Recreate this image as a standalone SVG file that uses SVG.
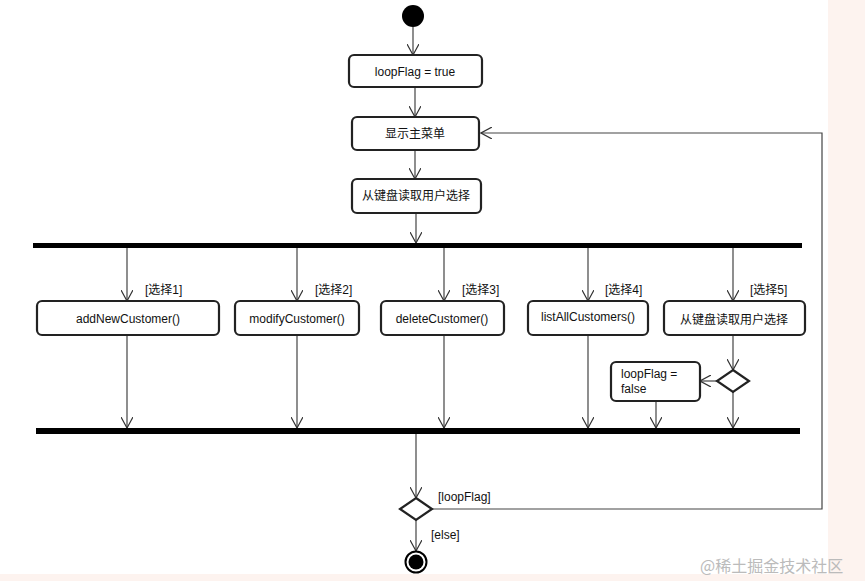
<svg xmlns="http://www.w3.org/2000/svg" width="865" height="581" viewBox="0 0 865 581">
<defs>
<marker id="a" viewBox="0 0 12 12" refX="11" refY="6" markerWidth="12" markerHeight="12" markerUnits="userSpaceOnUse" orient="auto"><path d="M0,0 L11,6 L0,12" fill="none" stroke="#333" stroke-width="1.2"/></marker>
<style>
.b{fill:#fff;stroke:#222;stroke-width:2.2}
.t{font-family:"Liberation Sans","Noto Sans CJK SC",sans-serif;font-size:12px;fill:#111}
.c{text-anchor:middle}
.l{fill:none;stroke:#444;stroke-width:1.2}
.bar{fill:#000}
</style>
</defs>
<rect width="865" height="581" fill="#fff"/>
<rect x="828" y="0" width="37" height="581" fill="#fdf3ef"/>
<rect x="0" y="574" width="865" height="7" fill="#fdf3ef"/>
<g id="connectors" class="l">
<path d="M413,27 V55" marker-end="url(#a)"/>
<path d="M415,87 V117" marker-end="url(#a)"/>
<path d="M415,150 V179" marker-end="url(#a)"/>
<path d="M416,213 V243" marker-end="url(#a)"/>
<path d="M127,248 V301" marker-end="url(#a)"/>
<path d="M297,248 V301" marker-end="url(#a)"/>
<path d="M444,248 V301" marker-end="url(#a)"/>
<path d="M588,248 V301" marker-end="url(#a)"/>
<path d="M733,248 V301" marker-end="url(#a)"/>
<path d="M127,335 V428" marker-end="url(#a)"/>
<path d="M297,335 V428" marker-end="url(#a)"/>
<path d="M444,335 V428" marker-end="url(#a)"/>
<path d="M588,335 V428" marker-end="url(#a)"/>
<path d="M733,335 V370" marker-end="url(#a)"/>
<path d="M717,381 H700" marker-end="url(#a)"/>
<path d="M656,401 V428" marker-end="url(#a)"/>
<path d="M733,392 V428" marker-end="url(#a)"/>
<path d="M416,434 V498" marker-end="url(#a)"/>
<path d="M416,520 V551" marker-end="url(#a)"/>
<path d="M432,509 H822 V133 H481" marker-end="url(#a)"/>
</g>
<g id="start"><circle cx="413" cy="16" r="11" fill="#000"/></g>
<g id="n1"><rect class="b" x="349" y="55" width="133" height="32" rx="5"/><text class="t c" x="415" y="76">loopFlag = true</text></g>
<g id="n2"><rect class="b" x="352" y="117" width="127" height="33" rx="5"/><text class="t c" x="415" y="138">显示主菜单</text></g>
<g id="n3"><rect class="b" x="352" y="179" width="129" height="34" rx="5"/><text class="t c" x="416" y="200">从键盘读取用户选择</text></g>
<g id="fork"><rect class="bar" x="33" y="243" width="769" height="5"/></g>
<g id="c1"><rect class="b" x="37" y="301" width="182" height="34" rx="5"/><text class="t c" x="128" y="323">addNewCustomer()</text><text class="t" x="145" y="294">[选择1]</text></g>
<g id="c2"><rect class="b" x="235" y="301" width="124" height="34" rx="5"/><text class="t c" x="297" y="323">modifyCustomer()</text><text class="t" x="315" y="294">[选择2]</text></g>
<g id="c3"><rect class="b" x="381" y="301" width="123" height="34" rx="5"/><text class="t c" x="442" y="323">deleteCustomer()</text><text class="t" x="462" y="294">[选择3]</text></g>
<g id="c4"><rect class="b" x="528" y="301" width="120" height="34" rx="5"/><text class="t c" x="588" y="321">listAllCustomers()</text><text class="t" x="605" y="294">[选择4]</text></g>
<g id="c5"><rect class="b" x="664" y="301" width="141" height="34" rx="5"/><text class="t c" x="734" y="324">从键盘读取用户选择</text><text class="t" x="750" y="294">[选择5]</text></g>
<g id="d1"><path class="b" d="M733,370 L749,381 L733,392 L717,381 Z"/></g>
<g id="n4"><rect class="b" x="611" y="362" width="89" height="39" rx="5"/><text class="t" x="621" y="378">loopFlag =</text><text class="t" x="621" y="393">false</text></g>
<g id="join"><rect class="bar" x="36" y="428" width="764" height="6"/></g>
<g id="d2"><path class="b" d="M416,498 L432,509 L416,520 L400,509 Z"/><text class="t" x="438" y="501" font-size="11">[loopFlag]</text><text class="t" x="431" y="539" font-size="11">[else]</text></g>
<g id="end"><circle cx="416" cy="562" r="10.5" fill="#fff" stroke="#000" stroke-width="2"/><circle cx="416" cy="562" r="7.5" fill="#000"/></g>
<text x="700" y="572" font-family="'Noto Sans CJK SC',sans-serif" font-size="16" fill="#bbb">@稀土掘金技术社区</text>
</svg>
